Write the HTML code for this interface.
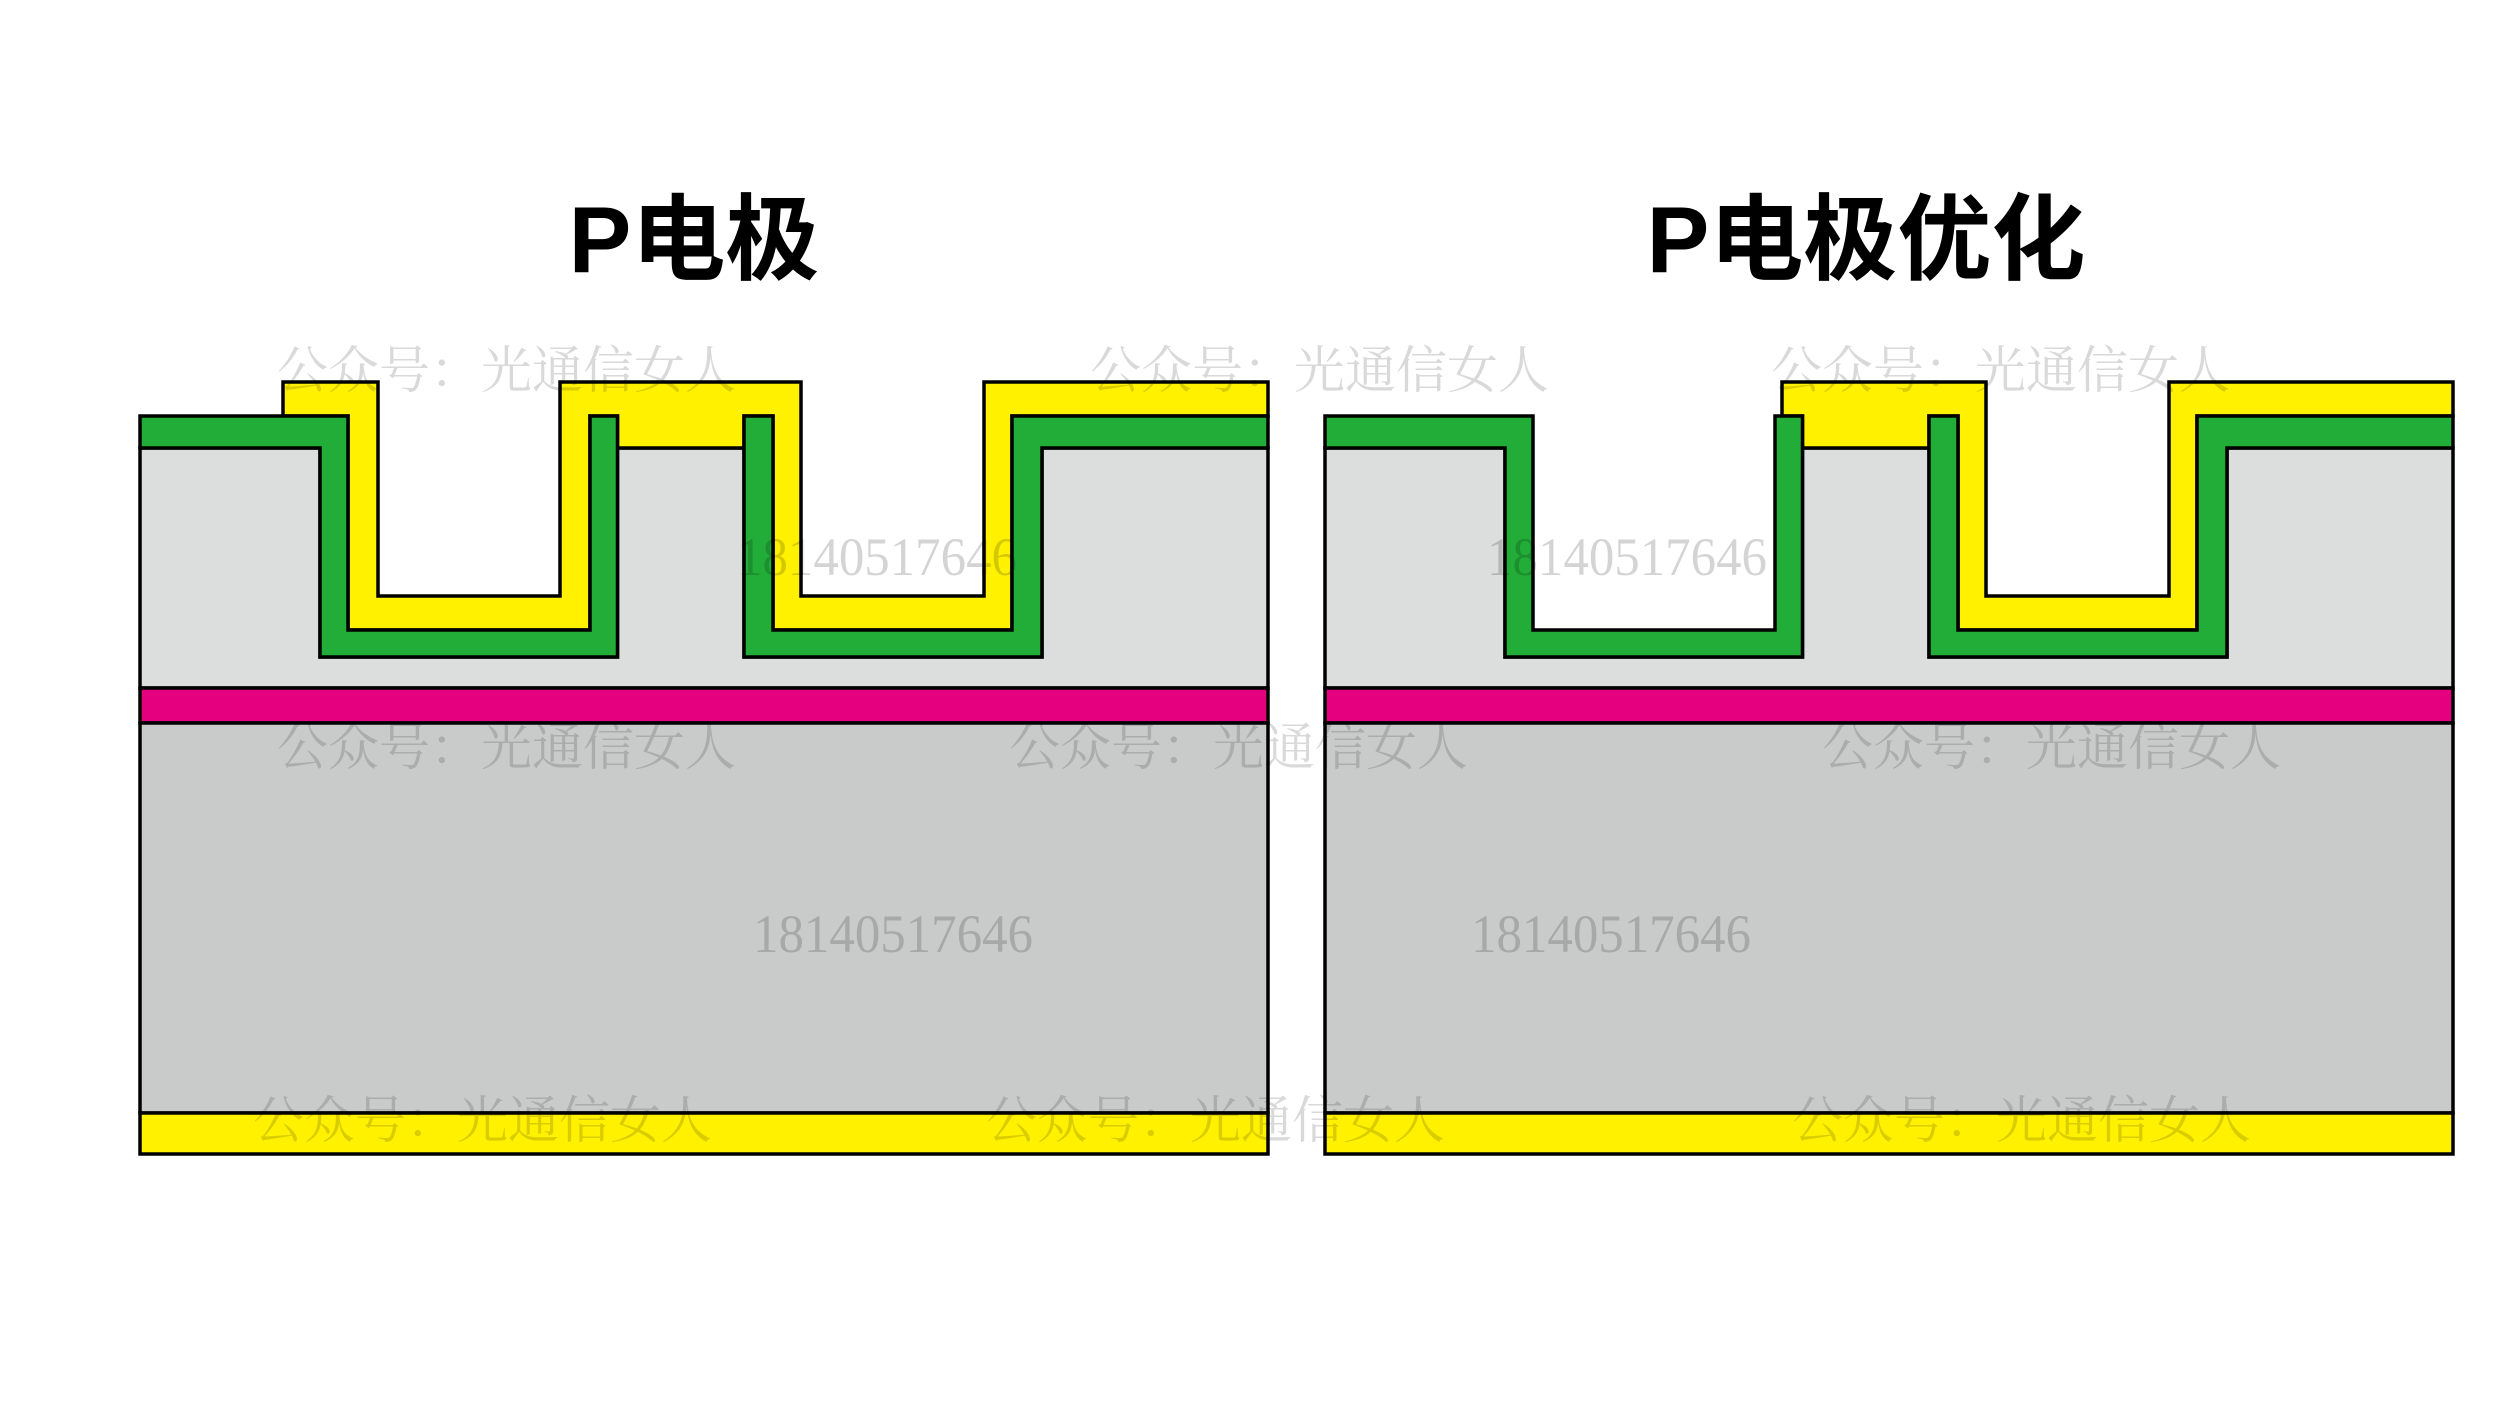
<!DOCTYPE html>
<html><head><meta charset="utf-8"><style>
html,body{margin:0;padding:0;background:#fff;}
svg{display:block;}
</style></head><body>
<svg width="2500" height="1406" viewBox="0 0 2500 1406" xmlns="http://www.w3.org/2000/svg">
<rect width="2500" height="1406" fill="#fff"/>
<defs>
<g id="base" stroke="#000" stroke-width="3.5" stroke-linejoin="miter">
  <polygon fill="#dcdddd" points="140,448 320,448 320,657 617.5,657 617.5,448 744,448 744,657 1042,657 1042,448 1268,448 1268,688 140,688"/>
  <rect x="140" y="688" width="1128" height="35" fill="#e4007f"/>
  <rect x="140" y="723" width="1128" height="390" fill="#c9caca"/>
  <rect x="140" y="1113" width="1128" height="41" fill="#fff100"/>
</g>
<g id="green" stroke="#000" stroke-width="3.5" fill="#22ac38">
  <polygon points="140,416 348,416 348,630 590,630 590,416 617.5,416 617.5,657 320,657 320,448 140,448"/>
  <polygon points="744,416 773,416 773,630 1012,630 1012,416 1268,416 1268,448 1042,448 1042,657 744,657"/>
</g>
</defs>
<use href="#base"/>
<polygon stroke="#000" stroke-width="3.5" fill="#fff100" points="283,382 378,382 378,596 560,596 560,382 801,382 801,596 984,596 984,382 1268,382 1268,416 1012,416 1012,630 773,630 773,416 744,416 744,448 617.5,448 617.5,416 590,416 590,630 348,630 348,416 283,416"/>
<use href="#green"/>
<g transform="translate(1185,0)">
<use href="#base"/>
<polygon stroke="#000" stroke-width="3.5" fill="#fff100" points="597,382 801,382 801,596 984,596 984,382 1268,382 1268,416 1012,416 1012,630 773,630 773,416 744,416 744,448 617.5,448 617.5,416 597,416"/>
<use href="#green"/>
</g>
<g font-family="'Liberation Sans','Noto Sans CJK SC',sans-serif" font-weight="bold" font-size="94" fill="#000" text-anchor="middle">
<text x="694" y="272">P电极</text>
<text x="1866" y="272">P电极优化</text>
</g>
<g font-family="'Liberation Serif','Noto Serif CJK SC',serif" font-size="51" fill="#000" fill-opacity="0.15">
<text x="277" y="388">公众号：光通信女人</text>
<text x="1090" y="388">公众号：光通信女人</text>
<text x="1771" y="388">公众号：光通信女人</text>
<text x="277" y="765">公众号：光通信女人</text>
<text x="1009" y="765">公众号：光通信女人</text>
<text x="1822" y="765">公众号：光通信女人</text>
<text x="253" y="1138">公众号：光通信女人</text>
<text x="986" y="1138">公众号：光通信女人</text>
<text x="1792" y="1138">公众号：光通信女人</text>
</g>
<g font-family="'Liberation Serif',serif" font-size="54" fill="#000" fill-opacity="0.17">
<text x="737" y="575" textLength="280" lengthAdjust="spacingAndGlyphs">18140517646</text>
<text x="1487" y="575" textLength="280" lengthAdjust="spacingAndGlyphs">18140517646</text>
<text x="753" y="952" textLength="280" lengthAdjust="spacingAndGlyphs">18140517646</text>
<text x="1471" y="952" textLength="280" lengthAdjust="spacingAndGlyphs">18140517646</text>
</g>
</svg>
</body></html>
